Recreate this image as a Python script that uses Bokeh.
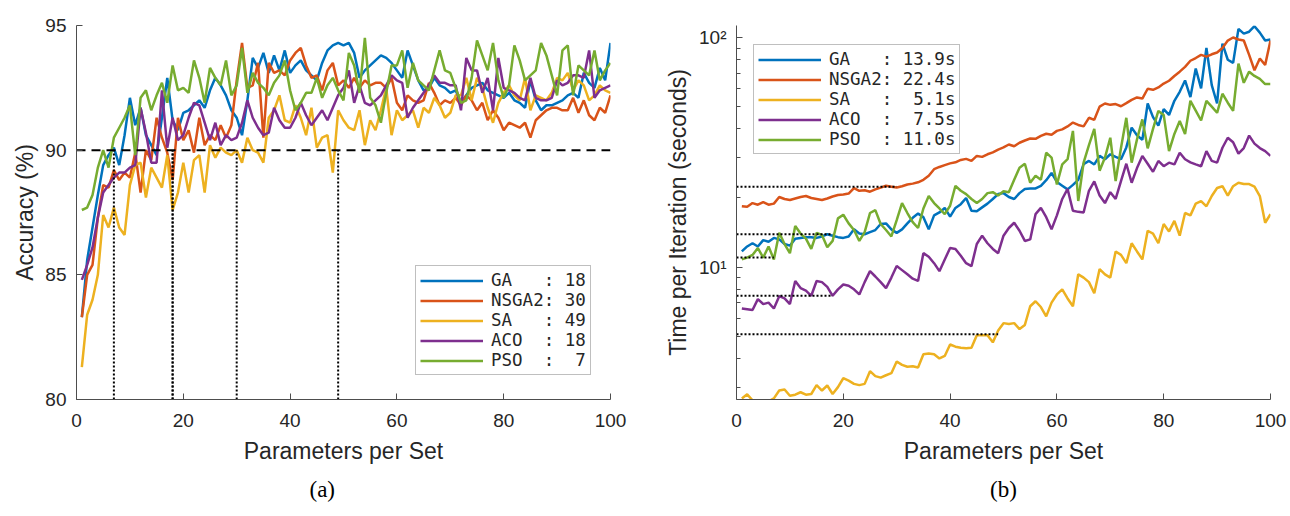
from bokeh.plotting import figure
from bokeh.layouts import row
from bokeh.models import Range1d, FixedTicker, Title
from bokeh.embed import file_html
from bokeh.resources import INLINE

x = list(range(1, 101))
names = ["GA", "NSGA2", "SA", "ACO", "PSO"]
colors = ["#0072BD", "#D95319", "#EDB120", "#7E2F8E", "#77AC30"]
threshold_params = [18, 30, 49, 18, 7]
mean_times = [13.9, 22.4, 5.1, 7.5, 11.0]
acc_target = 90
x_ticks = [0, 20, 40, 60, 80, 100]
acc_ticks = [80, 85, 90, 95]
time_ticks = [10, 100]
time_tick_labels = ["10\u00b9", "10\u00b2"]
time_minor = [3, 4, 5, 6, 7, 8, 9, 20, 30, 40, 50, 60, 70, 80, 90]

acc_ga = [83.3, 85.6, 86.9, 88.2, 89.4, 89.8, 90.1, 89.4, 90.6, 92.1,
          91.0, 91.7, 90.6, 90.2, 89.8, 91.3, 92.9, 91.2, 90.8, 91.5,
          91.6, 91.8, 92.0, 91.7, 92.4, 92.9, 92.6, 92.2, 91.6, 91.3,
          90.6, 92.0, 93.7, 93.3, 93.9, 93.1, 93.8, 93.2, 94.0, 93.1,
          93.4, 93.6, 93.2, 93.0, 92.8, 93.5, 94.0, 94.2, 94.3, 94.2,
          94.3, 93.9, 92.9, 93.2, 93.4, 93.6, 93.8, 93.7, 93.5, 93.2,
          92.9, 94.0, 93.4, 92.8, 92.4, 92.5, 92.9, 92.6, 92.5, 92.3,
          92.4, 91.9, 92.2, 92.5, 92.6, 92.7, 92.4, 92.3, 92.2, 92.1,
          92.3, 92.0, 91.9, 91.7, 92.8, 92.0, 91.6, 91.8, 91.8, 91.9,
          92.0, 92.2, 92.3, 92.1, 93.1, 92.7, 92.5, 93.3, 92.8, 94.3]
acc_nsga2 = [83.3, 85.0, 85.4, 87.3, 88.6, 88.5, 89.2, 88.8, 89.1, 88.9,
             89.9, 88.3, 90.0, 89.6, 91.3, 90.5, 89.9, 88.8, 91.3, 90.4,
             90.8, 89.9, 91.3, 90.2, 90.6, 90.4, 91.0, 90.5, 91.0, 92.8,
             94.3, 92.5, 92.6, 93.5, 90.5, 93.5, 93.1, 93.2, 93.0, 93.6,
             93.9, 94.1, 93.4, 92.9, 93.0, 92.4, 93.2, 93.5, 92.6, 92.8,
             92.5, 92.9, 92.5, 92.8, 92.6, 92.7, 92.7, 92.5, 92.9, 91.9,
             91.6, 92.2, 92.0, 91.9, 92.0, 92.7, 92.3, 91.8, 92.0, 91.9,
             92.1, 91.8, 92.2, 92.0, 91.6, 91.9, 91.2, 91.6, 91.3, 90.8,
             91.1, 91.0, 90.9, 91.1, 90.5, 91.2, 91.4, 91.6, 91.7, 91.7,
             91.6, 91.6, 92.1, 91.5, 92.0, 91.4, 91.2, 91.7, 91.5, 92.2]
acc_sa = [81.3, 83.4, 84.0, 85.0, 87.4, 86.9, 87.7, 86.9, 86.6, 88.6,
          89.4, 89.5, 88.1, 89.3, 88.9, 88.5, 89.8, 87.6, 88.3, 89.5,
          88.3, 89.6, 89.8, 88.3, 90.2, 89.7, 90.1, 89.9, 89.8, 90.0,
          89.5, 90.5, 90.0, 89.9, 89.5, 91.3, 91.6, 92.2, 91.2, 91.1,
          91.8, 91.3, 90.6, 91.7, 90.1, 90.5, 90.6, 89.1, 91.6, 91.2,
          90.9, 90.8, 91.6, 90.2, 91.2, 90.8, 91.6, 92.5, 90.6, 91.6,
          91.2, 91.4, 91.6, 90.9, 91.7, 91.5, 92.1, 91.8, 91.3, 91.5,
          92.2, 92.2, 92.9, 92.0, 92.9, 92.5, 91.7, 91.1, 91.9, 92.3,
          92.6, 92.2, 92.0, 92.9, 91.6, 92.2, 92.1, 92.0, 92.3, 92.9,
          92.8, 93.1, 92.4, 92.8, 92.6, 92.0, 92.2, 92.6, 92.4, 92.3]
acc_aco = [84.8, 85.4, 86.1, 87.3, 88.3, 88.6, 88.9, 89.1, 89.1, 89.3,
           89.4, 91.7, 90.7, 89.5, 89.5, 92.4, 90.1, 91.3, 90.4, 90.6,
           91.3, 91.9, 91.8, 91.1, 90.4, 91.1, 90.2, 90.6, 90.4, 90.5,
           91.1, 92.0, 91.3, 90.9, 90.6, 90.7, 91.7, 91.2, 90.9, 90.9,
           91.3, 91.9, 91.4, 91.0, 91.3, 91.6, 91.2, 91.7, 92.2, 92.5,
           93.2, 91.9, 92.6, 91.9, 91.8, 92.0, 92.2, 92.6, 93.0, 92.8,
           92.7, 91.3, 91.7, 92.0, 92.3, 92.6, 93.0, 92.7, 92.7, 92.6,
           92.6, 91.6, 93.7, 93.2, 93.2, 92.3, 92.9, 91.6, 93.7, 92.5,
           92.4, 92.3, 92.1, 92.0, 92.9, 92.1, 92.0, 92.0, 92.1, 92.8,
           92.6, 92.7, 93.0, 93.0, 92.9, 94.0, 92.1, 92.4, 92.5, 92.6]
acc_pso = [87.6, 87.7, 88.2, 89.3, 90.0, 89.3, 90.5, 90.9, 91.3, 91.8,
           89.8, 92.1, 92.4, 91.6, 92.2, 92.7, 91.9, 93.4, 92.4, 92.5,
           92.3, 93.6, 92.9, 91.9, 93.3, 92.9, 92.6, 93.6, 92.2, 92.6,
           94.1, 92.3, 93.1, 92.7, 92.5, 92.2, 92.7, 93.0, 93.6, 92.4,
           91.6, 91.9, 92.3, 92.3, 92.9, 92.1, 92.6, 92.9, 92.4, 92.0,
           93.9, 93.4, 92.3, 94.5, 92.1, 91.8, 91.1, 92.3, 93.4, 93.4,
           94.0, 92.5, 93.5, 92.8, 92.6, 92.4, 93.2, 94.0, 93.2, 93.1,
           92.5, 91.9, 92.0, 92.9, 94.4, 93.8, 93.2, 94.3, 92.8, 92.1,
           92.6, 94.2, 93.6, 92.8, 93.0, 93.2, 94.3, 93.8, 93.0, 92.2,
           94.0, 94.2, 92.2, 93.4, 93.2, 93.0, 94.0, 92.8, 93.2, 93.5]

time_ga = [11.7, 12.3, 12.7, 12.3, 13.1, 12.9, 13.4, 13.2, 12.6, 12.4,
           13.3, 13.4, 13.5, 13.5, 13.4, 13.6, 13.9, 13.7, 13.5, 13.4,
           13.6, 14.6, 14.0, 13.9, 14.2, 14.5, 15.4, 15.5, 14.6, 14.1,
           14.6, 15.5, 16.4, 17.1, 16.5, 14.6, 16.8, 17.3, 18.1, 16.6,
           18.1, 18.8, 20.0, 17.6, 17.5, 18.2, 18.9, 19.8, 20.8, 21.0,
           20.2, 19.8, 21.0, 21.9, 22.0, 22.0, 22.6, 23.9, 25.7, 23.5,
           22.6, 21.8, 22.8, 24.0, 28.1, 29.0, 28.0, 30.5, 29.5, 31.0,
           30.2, 29.5, 33.2, 40.5, 37.5, 35.8, 51.6, 45.0, 41.3, 48.8,
           46.0, 53.0, 58.0, 65.0, 55.0, 73.3, 60.0, 90.0, 62.0, 51.6,
           94.0, 80.0, 77.5, 109.0, 104.0, 106.0, 112.0, 105.0, 97.0, 98.0]
time_nsga2 = [18.4, 18.3, 19.0, 18.7, 19.2, 18.7, 18.9, 20.2, 19.8, 19.6,
              19.9, 20.2, 20.4, 20.0, 19.8, 19.6, 19.9, 20.3, 20.6, 20.7,
              20.9, 22.1, 21.5, 21.6, 21.3, 21.8, 22.2, 22.6, 22.4, 22.2,
              22.5, 22.9, 23.1, 23.4, 24.0, 25.0, 26.7, 27.3, 27.8, 28.3,
              28.6, 29.3, 29.6, 29.0, 30.5, 30.2, 31.0, 31.6, 32.5, 33.2,
              34.2, 33.6, 34.8, 35.6, 36.3, 36.2, 37.3, 38.1, 37.7, 39.2,
              39.8, 41.0, 42.6, 41.6, 41.0, 44.7, 43.8, 50.0, 51.6, 50.9,
              51.3, 50.2, 51.8, 53.5, 54.8, 54.2, 59.8, 59.2, 60.6, 63.0,
              64.8, 68.0, 71.0, 74.5, 79.2, 81.4, 84.0, 82.5, 84.5, 86.0,
              90.0, 97.0, 100.0, 98.0, 97.0, 84.0, 72.0, 81.0, 76.0, 97.0]
time_sa = [2.68, 2.79, 2.63, 2.60, 2.60, 2.60, 2.68, 2.90, 2.93, 2.75,
           2.78, 2.85, 2.78, 2.80, 3.06, 2.90, 3.05, 2.80, 3.00, 3.28,
           3.20, 3.10, 3.06, 3.10, 3.52, 3.35, 3.30, 3.38, 3.45, 3.88,
           3.75, 3.68, 3.70, 3.65, 4.17, 4.20, 4.17, 4.00, 4.10, 4.60,
           4.50, 4.45, 4.43, 4.45, 5.05, 5.05, 5.05, 4.70, 5.30, 5.70,
           5.65, 5.70, 5.37, 5.60, 6.75, 7.10, 6.70, 6.10, 7.00, 7.60,
           8.00, 7.30, 6.75, 9.30, 9.00, 8.60, 7.70, 9.80, 9.30, 9.00,
           11.7, 11.3, 10.4, 12.7, 11.7, 10.8, 14.4, 14.0, 12.7, 15.4,
           14.3, 15.9, 13.7, 17.2, 16.8, 18.9, 19.4, 18.4, 20.4, 22.1,
           22.5, 20.5, 22.5, 23.3, 23.0, 23.0, 22.4, 20.4, 15.6, 17.0]
time_aco = [6.60, 6.55, 6.50, 7.25, 6.90, 7.00, 6.60, 7.47, 7.30, 6.90,
            8.70, 8.10, 7.90, 7.50, 8.70, 8.60, 8.20, 7.50, 8.00, 8.40,
            8.30, 8.00, 7.60, 8.60, 9.60, 9.10, 8.60, 8.10, 9.00, 10.1,
            9.70, 9.30, 8.90, 8.70, 11.5, 11.1, 10.4, 9.60, 10.8, 12.1,
            12.0, 11.2, 10.4, 10.1, 12.6, 13.7, 12.7, 12.0, 11.5, 13.7,
            14.8, 15.6, 14.4, 13.0, 13.2, 17.0, 18.1, 16.5, 14.6, 16.8,
            19.8, 21.9, 17.6, 17.4, 17.3, 21.5, 23.6, 20.5, 19.0, 21.2,
            19.8, 23.7, 28.2, 23.3, 27.0, 30.5, 28.2, 26.0, 29.0, 27.5,
            28.5, 28.0, 31.5, 29.5, 28.6, 28.0, 27.5, 32.0, 29.0, 28.5,
            33.1, 36.6, 35.0, 31.2, 33.0, 37.4, 34.5, 33.0, 32.0, 30.5]
time_pso = [10.8, 11.0, 11.3, 12.1, 11.0, 12.3, 10.8, 14.1, 12.6, 11.5,
            15.1, 14.0, 13.3, 12.0, 14.1, 13.8, 12.2, 13.0, 16.3, 16.9,
            15.5, 14.5, 13.0, 14.2, 17.2, 17.7, 15.4, 14.5, 13.6, 16.0,
            19.0, 17.2, 15.7, 14.8, 18.0, 20.4, 19.0, 18.0, 17.0, 18.5,
            22.6, 21.5, 20.8, 19.8, 19.0, 19.8, 21.0, 21.2, 20.5, 21.4,
            21.2, 24.0, 27.1, 28.2, 23.3, 25.0, 24.0, 31.5, 30.0, 22.9,
            28.0, 29.5, 39.2, 19.4, 28.5, 34.0, 40.0, 26.3, 30.0, 36.6,
            23.7, 33.0, 44.7, 28.5, 36.0, 44.0, 32.9, 40.0, 47.9, 46.0,
            32.0, 38.0, 43.3, 38.0, 53.0, 48.0, 43.5, 53.0, 50.0, 47.0,
            56.9, 52.0, 47.9, 76.9, 63.5, 71.0, 68.0, 66.0, 62.7, 62.7]

acc_series = [acc_ga, acc_nsga2, acc_sa, acc_aco, acc_pso]
time_series = [time_ga, time_nsga2, time_sa, time_aco, time_pso]

NB = "\u00a0"
acc_labels = [f"{n:<5}: {t:>2}".replace(" ", NB) for n, t in zip(names, threshold_params)]
time_labels = [f"{n:<5}: {t:>4.1f}s".replace(" ", NB) for n, t in zip(names, mean_times)]

AX = "#4d4d4d"
TXT = "#262626"
TICK_FONT = "Liberation Sans"


def style(p):
    p.outline_line_color = None
    p.xgrid.visible = False
    p.ygrid.visible = False
    p.background_fill_color = "white"
    p.border_fill_color = "white"
    for ax in (p.xaxis[0], p.yaxis[0]):
        ax.axis_line_color = AX
        ax.axis_line_width = 1
        ax.major_tick_line_color = AX
        ax.minor_tick_line_color = AX
        ax.major_tick_in = 6
        ax.major_tick_out = 0
        ax.minor_tick_in = 0
        ax.minor_tick_out = 0
        ax.major_label_text_font = TICK_FONT
        ax.major_label_text_font_size = "19px"
        ax.major_label_text_color = TXT
        ax.axis_label_text_font = TICK_FONT
        ax.axis_label_text_font_size = "23px"
        ax.axis_label_text_font_style = "normal"
        ax.axis_label_text_color = TXT
    p.xaxis[0].major_label_standoff = 14
    p.yaxis[0].major_label_standoff = 10
    p.xaxis[0].ticker = FixedTicker(ticks=x_ticks)
    p.xaxis[0].axis_label = "Parameters per Set"
    p.xaxis[0].axis_label_standoff = 8


def style_legend(p, loc):
    lg = p.legend[0]
    lg.location = loc
    lg.label_text_font = "DejaVu Sans Mono"
    lg.label_text_font_size = "17.5px"
    lg.label_text_color = TXT
    lg.glyph_width = 63
    lg.glyph_height = 19
    lg.label_height = 19
    lg.label_standoff = 8
    lg.spacing = 0
    lg.padding = 4
    lg.margin = 0
    lg.border_line_color = "#808080"
    lg.border_line_width = 1
    lg.background_fill_color = "white"
    lg.background_fill_alpha = 1


# ---- panel (a)
p1 = figure(width=645, height=516, x_range=Range1d(0, 100), y_range=Range1d(80, 95),
            output_backend="svg", toolbar_location=None,
            min_border_left=76, min_border_right=35, min_border_top=25, min_border_bottom=117)
for ys, c, lab in zip(acc_series, colors, acc_labels):
    p1.line(x, ys, line_color=c, line_width=2.5, legend_label=lab)
p1.segment(x0=threshold_params, y0=[80] * 5, x1=threshold_params, y1=[acc_target] * 5,
           line_color="black", line_width=2, line_dash="2 2")
p1.line([0, 100], [acc_target, acc_target], line_color="black", line_width=2, line_dash="9 6")
style(p1)
p1.yaxis[0].ticker = FixedTicker(ticks=acc_ticks)
p1.yaxis[0].axis_label = "Accuracy (%)"
p1.yaxis[0].axis_label_standoff = 4
style_legend(p1, (339, 24))
p1.add_layout(Title(text="(a)", align="left", text_font="Liberation Serif",
                    text_font_size="23px", text_font_style="normal", text_color="black",
                    offset=233, standoff=17), "below")

# ---- panel (b)
p2 = figure(width=645, height=516, x_range=Range1d(0, 100), y_range=Range1d(2.65, 112.8),
            y_axis_type="log", output_backend="svg", toolbar_location=None,
            min_border_left=91, min_border_right=20, min_border_top=25, min_border_bottom=117)
for ys, c, lab in zip(time_series, colors, time_labels):
    p2.line(x, ys, line_color=c, line_width=2.5, legend_label=lab)
p2.segment(x0=[0] * 5, y0=mean_times, x1=threshold_params, y1=mean_times,
           line_color="black", line_width=2, line_dash="2 2")
style(p2)
p2.yaxis[0].ticker = FixedTicker(ticks=time_ticks, minor_ticks=time_minor)
p2.yaxis[0].major_label_overrides = {t: l for t, l in zip(time_ticks, time_tick_labels)}
p2.yaxis[0].minor_tick_in = 4
p2.yaxis[0].axis_label = "Time per Iteration (seconds)"
p2.yaxis[0].axis_label_standoff = 5
style_legend(p2, (17, 245))
p2.add_layout(Title(text="(b)", align="center", text_font="Liberation Serif",
                    text_font_size="23px", text_font_style="normal", text_color="black",
                    offset=0, standoff=17), "below")

layout = row(p1, p2)
open("out.html", "w").write(file_html(layout, INLINE))
